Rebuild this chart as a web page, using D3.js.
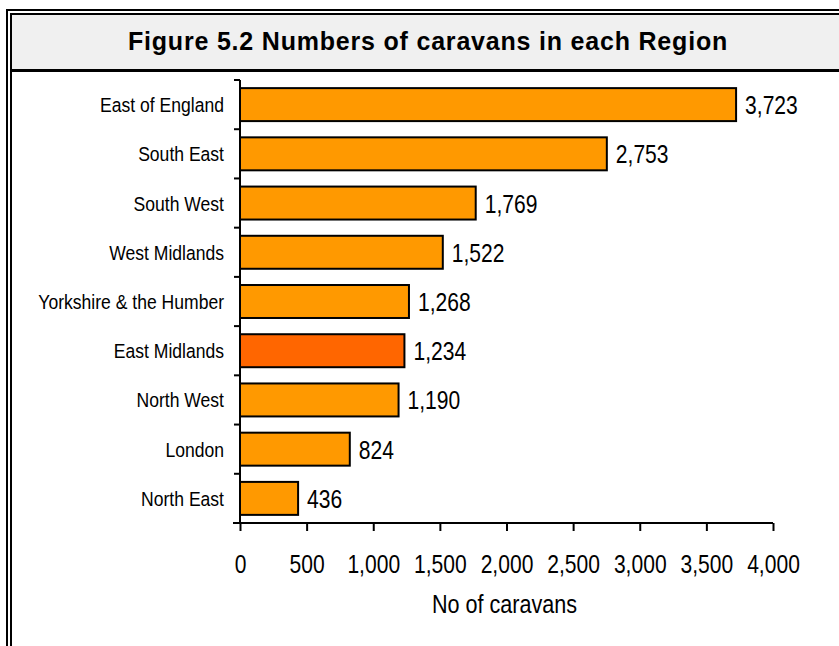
<!DOCTYPE html>
<html>
<head>
<meta charset="utf-8">
<script src="https://cdn.jsdelivr.net/npm/d3@7"></script>
<style>
  html, body { margin: 0; padding: 0; background: #fff; }
  svg { display: block; }
</style>
</head>
<body>
<script>
// Caravan counts by region
const regions = ["East of England", "South East", "South West", "West Midlands",
  "Yorkshire & the Humber", "East Midlands", "North West", "London", "North East"];
const caravans = [3723, 2753, 1769, 1522, 1268, 1234, 1190, 824, 436];
const highlighted = ["East Midlands"];
const xTicks = [0, 500, 1000, 1500, 2000, 2500, 3000, 3500, 4000];

const W = 839, H = 646;
const sans = "'Liberation Sans', Arial, sans-serif";

const svg = d3.select("body").append("svg").attr("width", W).attr("height", H);

// Condensed text: regular sans squeezed horizontally about its anchor
function narrowText(sel, size, squeeze) {
  return sel.attr("font-family", sans).attr("font-size", size).attr("fill", "#000")
    .attr("x", 0).attr("y", 0)
    .attr("transform", d => `translate(${d.tx},${d.ty}) scale(${squeeze},1)`);
}

// Frame: double rule on the left and top, grey title band
svg.append("rect").attr("x", 11).attr("y", 14).attr("width", W).attr("height", 56).attr("fill", "#f0f0f0");
svg.append("line").attr("x1", 6).attr("x2", W).attr("y1", 10).attr("y2", 10).attr("stroke", "#000").attr("stroke-width", 2);
svg.append("line").attr("x1", 7).attr("x2", 7).attr("y1", 9).attr("y2", H).attr("stroke", "#000").attr("stroke-width", 2);
svg.append("line").attr("x1", 10).attr("x2", W).attr("y1", 14).attr("y2", 14).attr("stroke", "#000").attr("stroke-width", 2);
svg.append("line").attr("x1", 11).attr("x2", 11).attr("y1", 13).attr("y2", H).attr("stroke", "#000").attr("stroke-width", 2);
svg.append("line").attr("x1", 11).attr("x2", W).attr("y1", 70.5).attr("y2", 70.5).attr("stroke", "#000").attr("stroke-width", 3);

svg.append("text")
  .attr("x", 428).attr("y", 50)
  .attr("text-anchor", "middle")
  .attr("font-family", sans)
  .attr("font-weight", "bold")
  .attr("font-size", 25)
  .attr("letter-spacing", 0.8)
  .attr("fill", "#000")
  .text("Figure 5.2 Numbers of caravans in each Region");

const x0 = 240, x1 = 773, y0 = 80, y1 = 523;

const x = d3.scaleLinear().domain([0, 4000]).range([x0, x1]);
const y = d3.scaleBand().domain(regions).range([y0, y1]).paddingInner(0.33).paddingOuter(0.165);
const fmt = d3.format(",");

const rows = regions.map((r, i) => ({ region: r, value: caravans[i] }));

// Bars
svg.append("g").selectAll("rect")
  .data(rows)
  .join("rect")
  .attr("x", x(0))
  .attr("y", d => y(d.region))
  .attr("width", d => x(d.value) - x(0))
  .attr("height", y.bandwidth())
  .attr("fill", d => highlighted.includes(d.region) ? "#ff6600" : "#ff9900")
  .attr("stroke", "#000")
  .attr("stroke-width", 2);

// Value labels
svg.append("g").selectAll("text")
  .data(rows.map(d => ({ ...d, tx: x(d.value) + 9, ty: y(d.region) + y.bandwidth() / 2 + 9.5 })))
  .join("text")
  .call(narrowText, 26, 0.81)
  .text(d => fmt(d.value));

// Category axis: ticks sit on band boundaries
const step = (y1 - y0) / regions.length;
const yAxis = svg.append("g");
yAxis.append("line").attr("x1", x0).attr("x2", x0).attr("y1", y0).attr("y2", y1)
  .attr("stroke", "#000").attr("stroke-width", 2);
yAxis.selectAll("line.tick")
  .data(d3.range(regions.length + 1))
  .join("line")
  .attr("class", "tick")
  .attr("x1", x0 - 6).attr("x2", x0)
  .attr("y1", i => y0 + i * step).attr("y2", i => y0 + i * step)
  .attr("stroke", "#000").attr("stroke-width", 2);
yAxis.selectAll("text")
  .data(rows.map(d => ({ ...d, tx: x0 - 16, ty: y(d.region) + y.bandwidth() / 2 + 7.5 })))
  .join("text")
  .attr("text-anchor", "end")
  .call(narrowText, 19.5, 0.9)
  .text(d => d.region);

// Value axis
const xAxis = svg.append("g").attr("transform", `translate(0,${y1})`)
  .call(d3.axisBottom(x).tickValues(xTicks).tickFormat(fmt).tickSize(8).tickSizeOuter(0));
xAxis.select(".domain").attr("stroke", "#000").attr("stroke-width", 2).attr("d", `M${x0 - 7},0H${x1}`);
xAxis.selectAll(".tick line").attr("stroke", "#000").attr("stroke-width", 2);
xAxis.selectAll(".tick text")
  .attr("y", 0).attr("dy", 0)
  .attr("font-family", sans)
  .attr("font-size", 26)
  .attr("fill", "#000")
  .attr("transform", "translate(0,50) scale(0.81,1)");

svg.append("g").selectAll("text")
  .data([{ label: "No of caravans", tx: (x0 + x1) / 2 - 2, ty: 613 }])
  .join("text")
  .attr("text-anchor", "middle")
  .call(narrowText, 26, 0.83)
  .text(d => d.label);
</script>
</body>
</html>
